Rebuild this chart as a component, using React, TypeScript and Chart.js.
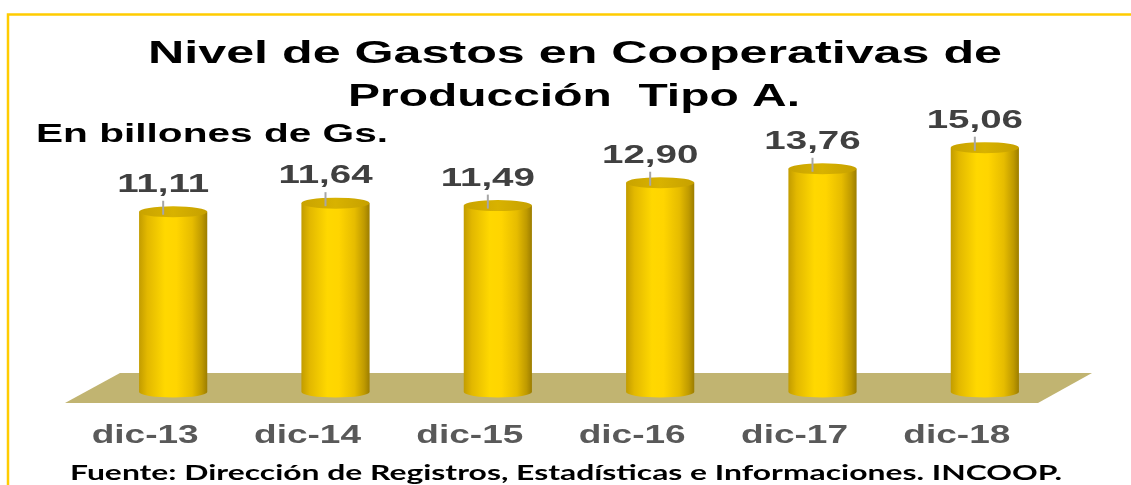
import React, { useEffect, useRef } from "react";
import { Chart, registerables } from "chart.js";

Chart.register(...registerables);

const categories = ["dic-13", "dic-14", "dic-15", "dic-16", "dic-17", "dic-18"];
const values = [11.11, 11.64, 11.49, 12.9, 13.76, 15.06];
const valueLabels = ["11,11", "11,64", "11,49", "12,90", "13,76", "15,06"];
const titleLines = ["Nivel de Gastos en Cooperativas de", "Producción  Tipo A."];
const subtitleText = "En billones de Gs.";
const footerText = "Fuente: Dirección de Registros, Estadísticas e Informaciones. INCOOP.";

const ARIAL = '"Liberation Sans", Arial, sans-serif';

function drawStretched(
  ctx: CanvasRenderingContext2D,
  text: string,
  x: number,
  y: number,
  font: string,
  color: string,
  sx: number,
  align: "left" | "center"
) {
  ctx.save();
  ctx.font = font;
  ctx.fillStyle = color;
  ctx.textAlign = "left";
  ctx.textBaseline = "alphabetic";
  const w = ctx.measureText(text).width * sx;
  const left = align === "center" ? x - w / 2 : x;
  ctx.translate(left, y);
  ctx.scale(sx, 1);
  ctx.fillText(text, 0, 0);
  ctx.restore();
}

function drawFit(
  ctx: CanvasRenderingContext2D,
  text: string,
  left: number,
  y: number,
  font: string,
  color: string,
  width: number
) {
  ctx.save();
  ctx.font = font;
  const w = ctx.measureText(text).width;
  ctx.restore();
  drawStretched(ctx, text, left, y, font, color, width / w, "left");
}

const decorPlugin = {
  id: "decor",
  beforeDraw(chart: any) {
    const ctx: CanvasRenderingContext2D = chart.ctx;
    ctx.save();
    ctx.fillStyle = "#ffffff";
    ctx.fillRect(0, 0, chart.width, chart.height);
    ctx.strokeStyle = "#FFCC00";
    ctx.lineWidth = 2.5;
    ctx.beginPath();
    ctx.moveTo(8, chart.height);
    ctx.lineTo(8, 14.5);
    ctx.lineTo(chart.width, 14.5);
    ctx.stroke();
    ctx.restore();

    drawFit(ctx, titleLines[0], 148, 63, `bold 32px ${ARIAL}`, "#000000", 854);
    drawFit(ctx, titleLines[1], 348, 106, `bold 32px ${ARIAL}`, "#000000", 452);
    drawFit(ctx, subtitleText, 36, 142, `bold 26.5px ${ARIAL}`, "#000000", 352);
    drawFit(ctx, footerText, 70, 480, `bold 21px Lato, "Noto Sans", sans-serif`, "#000000", 992);
  },
  beforeDatasetsDraw(chart: any) {
    const ctx: CanvasRenderingContext2D = chart.ctx;
    const a = chart.chartArea;
    const yb = chart.scales.y.getPixelForValue(0);
    ctx.save();
    ctx.fillStyle = "#C1B471";
    ctx.beginPath();
    ctx.moveTo(a.left + 28, yb - 19);
    ctx.lineTo(a.right + 26, yb - 19);
    ctx.lineTo(a.right - 28, yb + 11);
    ctx.lineTo(a.left - 27, yb + 11);
    ctx.closePath();
    ctx.fill();
    ctx.restore();
  },
  afterDatasetsDraw(chart: any) {
    const ctx: CanvasRenderingContext2D = chart.ctx;
    const meta = chart.getDatasetMeta(0);
    const ry = 5.5;
    meta.data.forEach((el: any, i: number) => {
      const { x, y, base, width } = el.getProps(["x", "y", "base", "width"], true);
      const rx = width / 2;
      const l = x - rx;
      const r = x + rx;
      ctx.save();
      const g = ctx.createLinearGradient(l, 0, r, 0);
      g.addColorStop(0, "#C29C00");
      g.addColorStop(0.12, "#E2B800");
      g.addColorStop(0.38, "#FFD800");
      g.addColorStop(0.55, "#FFD500");
      g.addColorStop(0.78, "#E6BC00");
      g.addColorStop(0.92, "#BF9A00");
      g.addColorStop(1, "#9C7D00");
      ctx.fillStyle = g;
      ctx.beginPath();
      ctx.moveTo(l, y);
      ctx.lineTo(l, base);
      ctx.ellipse(x, base, rx, ry, 0, Math.PI, 0, true);
      ctx.lineTo(r, y);
      ctx.closePath();
      ctx.fill();

      const gt = ctx.createLinearGradient(l, 0, r, 0);
      gt.addColorStop(0, "#C9A300");
      gt.addColorStop(0.5, "#D8B200");
      gt.addColorStop(1, "#C6A000");
      ctx.fillStyle = gt;
      ctx.beginPath();
      ctx.ellipse(x, y, rx, ry, 0, 0, Math.PI * 2);
      ctx.fill();
      ctx.restore();

      // leader line
      ctx.save();
      ctx.strokeStyle = "#A6A6A6";
      ctx.lineWidth = 2;
      ctx.beginPath();
      ctx.moveTo(x - 10, y - 11);
      ctx.lineTo(x - 10, y + 3);
      ctx.stroke();
      ctx.restore();

      drawStretched(ctx, valueLabels[i], x - 10, y - 20, `bold 26px ${ARIAL}`, "#404040", 1.48, "center");
      drawStretched(ctx, categories[i], x - 28, 443, `bold 25px ${ARIAL}`, "#595959", 1.48, "center");
    });
  },
};

export default function App() {
  const ref = useRef<HTMLCanvasElement | null>(null);
  useEffect(() => {
    if (!ref.current) return;
    const chart = new Chart(ref.current, {
      type: "bar",
      data: {
        labels: categories,
        datasets: [
          {
            data: values,
            backgroundColor: "rgba(0,0,0,0)",
            borderWidth: 0,
            barPercentage: 0.42,
            categoryPercentage: 1,
          },
        ],
      },
      options: {
        responsive: false,
        animation: false,
        layout: { padding: { left: 92, right: 65, top: 100, bottom: 93 } },
        scales: {
          x: { display: false, offset: true },
          y: { display: false, min: 0, max: 18 },
        },
        plugins: {
          legend: { display: false },
          tooltip: { enabled: false },
          title: { display: false },
        },
      },
      plugins: [decorPlugin],
    });
    return () => chart.destroy();
  }, []);
  return (
    <div style={{ position: "absolute", left: 0, top: 0, width: 1131, height: 485, background: "#fff" }}>
      <canvas ref={ref} width={1131} height={485} style={{ display: "block" }} />
    </div>
  );
}
